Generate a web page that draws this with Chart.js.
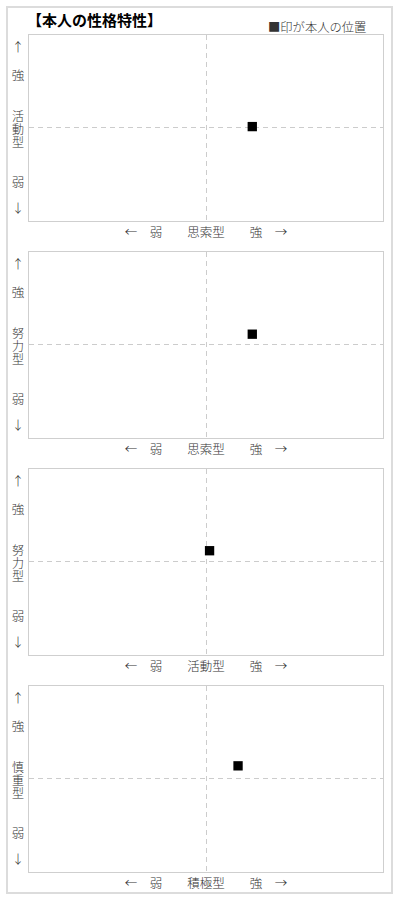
<!DOCTYPE html>
<html>
<head>
<meta charset="utf-8">
<script src="https://cdn.jsdelivr.net/npm/chart.js@4"></script>
<style>
  html, body { margin:0; padding:0; background:#fff; }
  body { width:400px; height:902px; position:relative; overflow:hidden;
         font-family:"Noto Sans CJK JP","Noto Sans",sans-serif; }
  #frame { position:absolute; left:6px; top:6px; width:387px; height:888px;
           box-sizing:border-box; border:2px solid #dcdcdc; }
  #title { position:absolute; left:27px; top:11px; font-size:15px; font-weight:700;
           line-height:18px; color:#000; white-space:nowrap; }
  #legend { position:absolute; left:268px; top:19px; font-size:12.3px; line-height:16px;
            color:#333; font-weight:300; white-space:nowrap; }
  .lbl { position:absolute; font-size:12.5px; line-height:14px; color:#333; font-weight:300;
         white-space:nowrap; transform:translate(-50%,-50%); }
  .lbl.v { font-size:12px; line-height:13px; }
  canvas.c { position:absolute; }
</style>
</head>
<body>
<div id="frame"></div>
<div id="title">【本人の性格特性】</div>
<div id="legend">■印が本人の位置</div>
<script>
// ---- data ----
const xNames = ['思索型', '思索型', '活動型', '積極型'];
const yNames = ['活動型', '努力型', '努力型', '慎重型'];
const xValues = [2.6, 2.6, 0.2, 1.8];
const yValues = [0.15, 1.15, 1.2, 1.4];
const axisMin = -10;
const axisMax = 10;
const centerValue = 0;
const weakLabel = '弱';
const strongLabel = '強';

// ---- layout ----
const chartTops = [34, 251, 468, 685];
const plotLeft = 28, plotW = 356, plotH = 188;

const framePlugin = {
  id: 'frame',
  beforeDatasetsDraw(chart) {
    const a = chart.chartArea, ctx = chart.ctx;
    const xs = chart.scales.x, ys = chart.scales.y;
    ctx.save();
    ctx.strokeStyle = '#cfcfcf';
    ctx.lineWidth = 1;
    ctx.strokeRect(Math.round(a.left) + 0.5, Math.round(a.top) + 0.5,
                   Math.round(a.right - a.left) - 1, Math.round(a.bottom - a.top) - 1);
    // center (zero) lines from the scales
    ctx.strokeStyle = '#cccccc';
    ctx.setLineDash([5, 4]);
    const px = Math.round(xs.getPixelForValue(centerValue)) + 0.5;
    const py = Math.round(ys.getPixelForValue(centerValue)) - 0.5;
    ctx.beginPath();
    ctx.moveTo(px, a.top + 1); ctx.lineTo(px, a.bottom - 1);
    ctx.moveTo(a.left + 1, py); ctx.lineTo(a.right - 1, py);
    ctx.stroke();
    ctx.restore();
  }
};

function addLabel(text, x, y, extra) {
  const d = document.createElement('div');
  d.className = 'lbl' + (extra ? ' ' + extra : '');
  d.textContent = text;
  d.style.left = x + 'px';
  d.style.top = y + 'px';
  document.body.appendChild(d);
}

function axisOpts() {
  return { type: 'linear', min: axisMin, max: axisMax, display: false };
}

chartTops.forEach((T, i) => {
  const cv = document.createElement('canvas');
  cv.className = 'c';
  cv.width = plotW; cv.height = plotH;
  cv.style.left = plotLeft + 'px';
  cv.style.top = T + 'px';
  cv.style.width = plotW + 'px';
  cv.style.height = plotH + 'px';
  document.body.appendChild(cv);

  new Chart(cv, {
    type: 'scatter',
    data: {
      datasets: [{
        data: [{ x: xValues[i], y: yValues[i] }],
        pointStyle: 'rect',
        pointRadius: 6.6,
        pointHoverRadius: 6.6,
        backgroundColor: '#000',
        borderColor: '#000',
        borderWidth: 0
      }]
    },
    options: {
      responsive: false,
      animation: false,
      events: [],
      layout: { padding: 0, autoPadding: false },
      plugins: { legend: { display: false }, tooltip: { enabled: false } },
      scales: { x: axisOpts(), y: axisOpts() }
    },
    plugins: [framePlugin]
  });

  // y axis labels (vertical)
  const lx = 18;
  addLabel('↑', lx, T + 13);
  addLabel(strongLabel, lx, T + 41);
  [...yNames[i]].forEach((ch, k) => addLabel(ch, lx, T + 81 + k * 13, 'v'));
  addLabel(weakLabel, lx, T + 148);
  addLabel('↓', lx, T + 174);

  // x axis labels
  const ly = T + 198;
  addLabel('←', 131, ly);
  addLabel(weakLabel, 156, ly);
  addLabel(xNames[i], 206, ly);
  addLabel(strongLabel, 256, ly);
  addLabel('→', 281, ly);
});
</script>
</body>
</html>
